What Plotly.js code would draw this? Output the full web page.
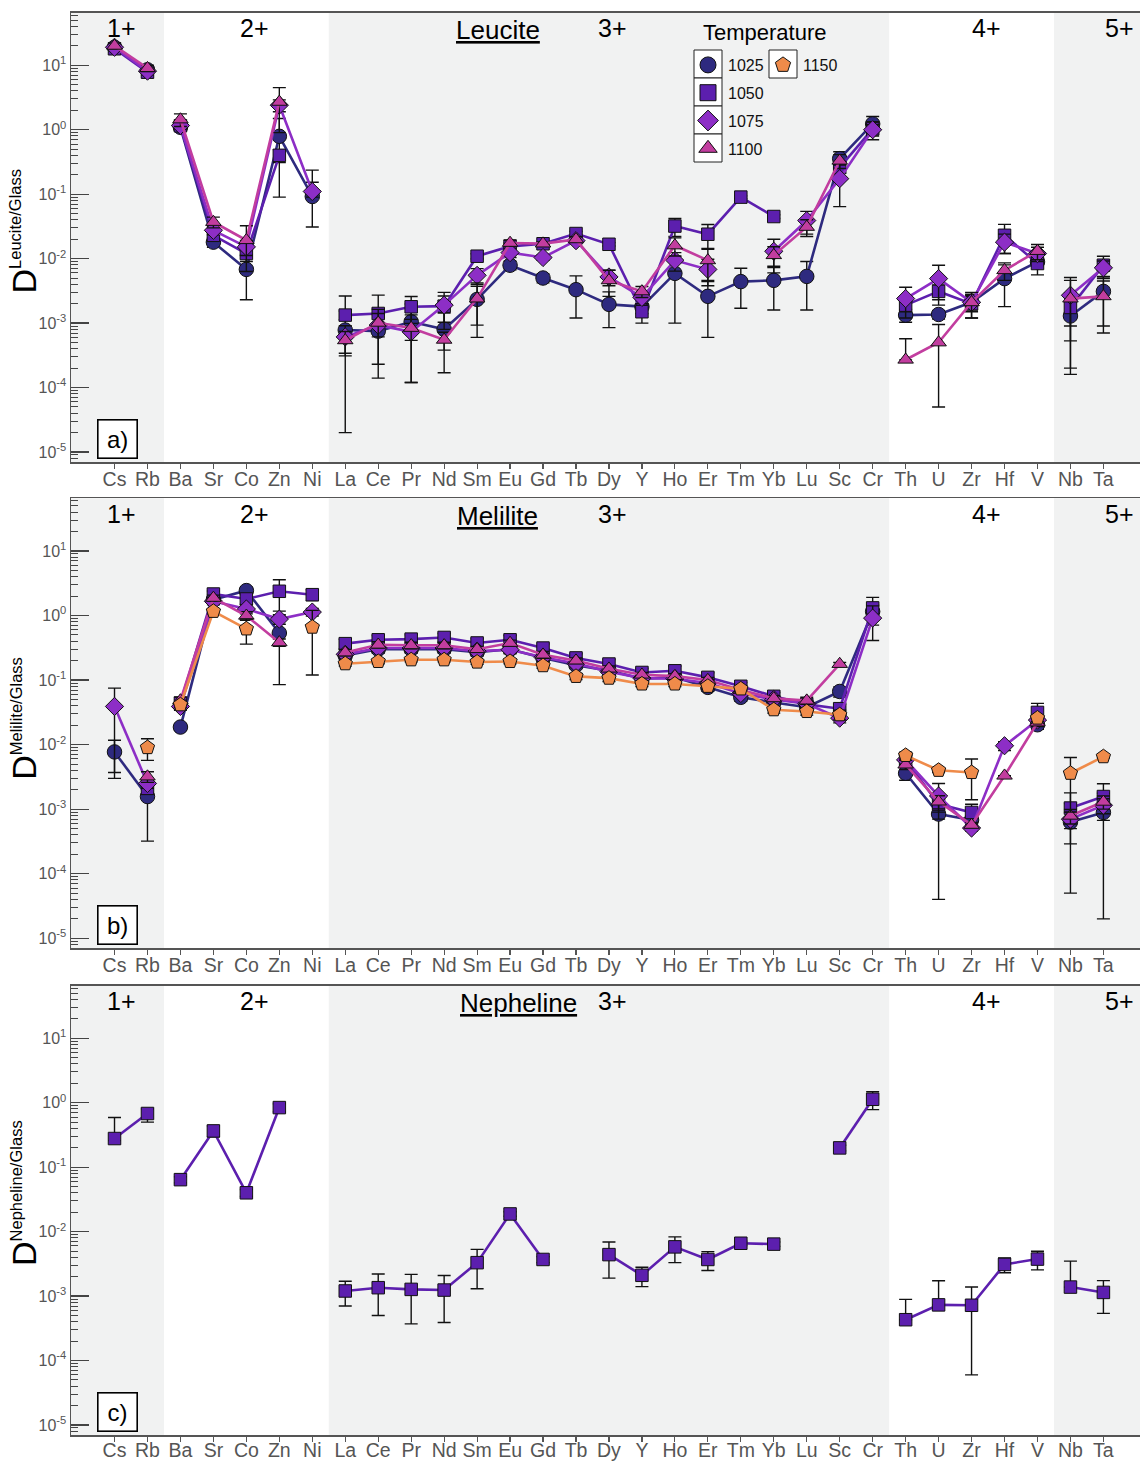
<!DOCTYPE html>
<html><head><meta charset="utf-8">
<script src="https://cdn.plot.ly/plotly-3.0.1.min.js"></script>
<style>html,body{margin:0;padding:0;background:#fff}#chart{width:1140px;height:1461px}</style>
</head><body><div id="chart"></div>
<script>
const categories = ['Cs','Rb','Ba','Sr','Co','Zn','Ni','La','Ce','Pr','Nd','Sm','Eu','Gd','Tb','Dy','Y','Ho','Er','Tm','Yb','Lu','Sc','Cr','Th','U','Zr','Hf','V','Nb','Ta'];
const chargeGroups = [['Cs','Rb'],['Ba','Ni'],['La','Cr'],['Th','V'],['Nb','Ta']];
const chargeLabels = ['1+','2+','3+','4+','5+'];
const temperatures = ['1025','1050','1075','1100','1150'];

// ---- Leucite / Glass ----
const leu1025 = [19,8.5,1.09,0.018,0.0068,0.79,0.092,0.00078,0.00075,0.00105,0.0008,0.00233,0.0079,0.005,0.0033,0.00195,0.0018,0.0059,0.0026,0.0044,0.0046,0.0053,0.355,1.23,0.00133,0.00136,0.0021,0.0049,0.0089,0.00129,0.0031];
const leu1025Err = [2,0.9,0.12,0.003,0.0045,0.7,0.061,0.00076,0.00061,0.00093,0.00063,0.0014,0.0012,0.0008,0.0021,0.0011,0.0004,0.0049,0.002,0.0027,0.003,0.0037,0.1,0.37,0.0003,0.0002,0.0005,0.0031,0.001,0.00113,0.0022];
const leu1050 = [18,7.8,1.15,0.023,0.012,0.40,null,0.00133,0.00141,0.00179,0.00183,0.0109,0.0155,0.017,0.0245,0.0167,0.0015,0.032,0.0239,0.090,0.045,null,0.26,1.03,0.0019,0.0031,0.002,0.023,0.0084,0.00175,0.0079];
const leu1050Err = [1.8,0.8,0.12,0.004,0.003,0.09,0,0.0013,0.0013,0.0008,0.0008,0.001,0.002,0.001,0.002,0.001,0.0005,0.01,0.01,0.004,0.003,0,0.05,0.3,0.0004,0.0008,0.0008,0.011,0.0028,0.00122,0.003];
const leu1050ErrMinus = [1.8,0.8,0.12,0.004,0.003,0.09,0,0.0002,0.0004,0.0008,0.0008,0.001,0.002,0.001,0.002,0.001,0.0005,0.01,0.01,0.004,0.003,0,0.05,0.33,0.0004,0.0008,0.0008,0.011,0.0028,0.00122,0.003];
const leu1075 = [19,8.1,1.16,0.0275,0.0152,2.4,0.11,0.00061,0.00093,0.00073,0.0019,0.0055,0.0124,0.0104,0.019,0.0052,0.0025,0.0094,0.0068,null,0.013,0.039,0.174,1.0,0.0024,0.0049,0.0021,0.018,0.012,0.0027,0.0072];
const leu1075Err = [2,0.8,0.12,0.004,0.004,0.5,0.126,0.0003,0.0007,0.00061,0.0011,0.0015,0.002,0.001,0.002,0.0014,0.0005,0.003,0.003,0,0.007,0.015,0.11,0.2,0.0012,0.003,0.0006,0.006,0.003,0.0024,0.002];
const leu1075ErrMinus = [2,0.8,0.12,0.004,0.004,0.5,0.02,0.0003,0.0007,0.00061,0.0011,0.0015,0.002,0.001,0.002,0.0014,0.0005,0.003,0.003,0,0.007,0.015,0.11,0.2,0.0012,0.003,0.0006,0.006,0.003,0.0018,0.002];
const leu1100 = [20,9,1.44,0.037,0.0193,2.7,null,0.00054,0.00101,0.00084,0.00055,0.0024,0.0175,0.0171,0.0199,0.0046,0.0031,0.016,0.0094,null,0.0113,0.031,0.33,null,0.00027,0.0005,0.0021,0.0066,0.0131,0.0024,0.0026];
const leu1100Err = [2,1,0.32,0.007,0.013,1.8,0,0.0002,0.0004,0.0003,0.00017,0.0018,0.002,0.001,0.002,0.002,0.0006,0.005,0.005,0,0.004,0.009,0.08,0,0.0003,0.00045,0.0009,0.002,0.0035,0.0022,0.0019];
const leu1100ErrMinus = [2,1,0.32,0.007,0.013,1.8,0,0.0002,0.0004,0.0003,0.00017,0.0018,0.002,0.001,0.002,0.002,0.0006,0.005,0.005,0,0.004,0.009,0.08,0,0.000001,0.00045,0.0009,0.002,0.0035,0.0022,0.0019];

// ---- Melilite / Glass ----
const mel1025 = [0.0077,0.00157,0.0187,1.76,2.43,0.535,null,0.24,0.30,0.30,0.30,0.27,0.30,0.22,0.17,0.14,0.105,0.11,0.077,0.054,0.045,0.038,0.0665,1.15,0.0036,0.00084,0.00068,null,0.0203,0.00063,0.00089];
const mel1025Err = [0.004,0.00125,0.002,0.2,0.3,0.45,0,0.03,0.04,0.04,0.04,0.035,0.04,0.03,0.02,0.015,0.01,0.012,0.01,0.007,0.005,0.005,0.012,0.3,0.0008,0.0008,0.0001,0,0.003,0.00058,0.00087];
const mel1050 = [null,0.0021,0.044,2.15,1.80,2.37,2.10,0.366,0.42,0.43,0.457,0.375,0.42,0.313,0.22,0.177,0.131,0.139,0.11,0.08,0.056,0.042,0.036,1.31,0.0058,0.0012,0.00089,null,0.0315,0.00104,0.00157];
const mel1050Err = [0,0.0004,0.005,0.25,0.3,1.2,0.4,0.06,0.07,0.07,0.07,0.06,0.07,0.05,0.035,0.03,0.02,0.025,0.02,0.012,0.008,0.006,0.006,0.6,0.001,0.0003,0.0003,0,0.012,0.00075,0.0009];
const mel1075 = [0.039,0.0025,0.039,1.66,1.26,0.88,1.13,0.25,0.313,0.313,0.313,0.28,0.295,0.225,0.18,0.135,0.107,0.105,0.09,0.062,0.05,0.043,0.0257,0.91,0.0058,0.0016,0.00051,0.0096,0.024,0.0007,0.00115];
const mel1075Err = [0.036,0.0004,0.005,0.2,0.2,0.15,0.15,0.03,0.04,0.04,0.04,0.03,0.04,0.03,0.02,0.015,0.01,0.01,0.01,0.006,0.005,0.005,0.004,0.5,0.001,0.0009,0.00005,0.0015,0.004,0.0002,0.0003];
const mel1100 = [null,0.0032,0.0483,1.87,0.99,0.383,null,0.267,0.352,0.345,0.345,0.30,0.375,0.247,0.20,0.15,0.121,0.115,0.10,0.07,0.052,0.048,0.177,null,0.0049,0.00131,0.00057,0.0033,0.022,0.00079,0.0013];
const mel1100Err = [0,0.0006,0.006,0.2,0.15,0.05,0,0.03,0.04,0.04,0.04,0.03,0.04,0.03,0.02,0.015,0.01,0.01,0.01,0.006,0.005,0.006,0.01,0,0.0008,0.0003,0.00005,0,0.003,0.0002,0.0003];
const mel1150 = [null,0.009,0.0414,1.16,0.62,null,0.66,0.179,0.194,0.206,0.206,0.19,0.194,0.167,0.114,0.107,0.087,0.087,0.080,0.073,0.0347,0.0326,0.029,null,0.0068,0.0040,0.0037,null,0.0258,0.0036,0.0065];
const mel1150Err = [0,0.0033,0.004,0.1,0.26,0,0.54,0.015,0.015,0.015,0.015,0.015,0.015,0.015,0.012,0.012,0.008,0.008,0.008,0.008,0.004,0.004,0.005,0,0.0008,0.0003,0.0023,0,0.003,0.0027,0.0003];

// ---- Nepheline / Glass ----
const nep1050 = [0.278,0.68,0.064,0.365,0.040,0.84,null,0.0012,0.00135,0.00127,0.00124,0.0033,0.0188,0.0037,null,0.0044,0.0021,0.0058,0.0037,0.0066,0.0064,null,0.199,1.13,0.00043,0.00073,0.00072,0.0031,0.00375,0.00138,0.00114];
const nep1050Err = [0.31,0.12,0.007,0.07,0.005,0.12,0,0.0005,0.00085,0.0009,0.00085,0.002,0.0015,0.0004,0,0.0025,0.0007,0.0025,0.0012,0.0005,0.0005,0,0.02,0.35,0.00046,0.001,0.00066,0.0008,0.0012,0.0021,0.0006];
const nep1050ErrMinus = [0.02,0.18,0.007,0.07,0.005,0.12,0,0.0005,0.00085,0.0009,0.00085,0.002,0.0015,0.0004,0,0.0025,0.0007,0.0025,0.0012,0.0005,0.0005,0,0.02,0.35,0.000001,0.000001,0.00066,0.0008,0.0012,0.000001,0.0006];

const panelTitles = ['Leucite','Melilite','Nepheline'];
const panelLetters = ['a)','b)','c)'];
const ySubscripts = ['Leucite/Glass','Melilite/Glass','Nepheline/Glass'];

const colors = {'1025':'#2e2a7f','1050':'#5c1fae','1075':'#8d2ec6','1100':'#c23d9f','1150':'#ef8b4a'};
const symbols = {'1025':'circle','1050':'square','1075':'diamond','1100':'triangle-up','1150':'pentagon'};
const sizes = {'1025':14.5,'1050':12.5,'1075':14,'1100':13.5,'1150':15};

const panels = [
  [{t:'1025',y:leu1025,e:leu1025Err},{t:'1050',y:leu1050,e:leu1050Err,em:leu1050ErrMinus},{t:'1075',y:leu1075,e:leu1075Err,em:leu1075ErrMinus},{t:'1100',y:leu1100,e:leu1100Err,em:leu1100ErrMinus}],
  [{t:'1025',y:mel1025,e:mel1025Err},{t:'1050',y:mel1050,e:mel1050Err},{t:'1075',y:mel1075,e:mel1075Err},{t:'1100',y:mel1100,e:mel1100Err},{t:'1150',y:mel1150,e:mel1150Err}],
  [{t:'1050',y:nep1050,e:nep1050Err,em:nep1050ErrMinus}]
];

const W = 1140, H = 1461, ML = 71;
const px2x = p => (p - ML) / (W - ML);
const px2y = p => 1 - p / H;
const FONT = 'Liberation Sans, Arial, sans-serif';
const panelPx = [[12.7,462],[498.3,948.3],[985.7,1435]];
const panelOffset = [0, 486.3, 973];

const traces = [];
panels.forEach((series, pi) => {
  const ax = pi === 0 ? '' : String(pi + 1);
  series.forEach(s => {
    chargeGroups.forEach(g => {
      const i0 = categories.indexOf(g[0]), i1 = categories.indexOf(g[1]);
      const em = s.em || s.e;
      traces.push({
        type:'scatter', mode:'lines+markers',
        x: categories.slice(i0, i1+1), y: s.y.slice(i0, i1+1),
        xaxis:'x'+ax, yaxis:'y'+ax,
        connectgaps:false, showlegend:false, legendgroup:s.t, name:s.t,
        line:{color:colors[s.t], width:2.6},
        marker:{symbol:symbols[s.t], size:sizes[s.t], color:colors[s.t], line:{color:'#111', width:1}},
        error_y:{type:'data', symmetric:false, array:s.e.slice(i0,i1+1), arrayminus:em.slice(i0,i1+1), color:'#111', thickness:1.4, width:6.5},
        hoverinfo:'x+y+name'
      });
    });
  });
});
// legend entries (markers only)
temperatures.forEach(t => {
  traces.push({type:'scatter', mode:'markers', x:[categories[0]], y:[null], name:t, legendgroup:t,
    legend: t === '1150' ? 'legend2' : 'legend', showlegend:true,
    marker:{symbol:symbols[t], size:16, color:colors[t], line:{color:'#111', width:1}}});
});

const majorVals = [], majorText = [], minorVals = [];
for (let d = -5; d <= 1; d++) { majorVals.push(Math.pow(10,d)); majorText.push('10<sup>' + d + '</sup>'); }
for (let d = -6; d <= 1; d++) for (let m = 2; m <= 9; m++) minorVals.push(m * Math.pow(10,d));

const layout = {
  width:W, height:H, margin:{l:ML, r:0, t:0, b:0},
  paper_bgcolor:'#fff', plot_bgcolor:'#fff',
  font:{family:FONT, color:'#000'},
  showlegend:true,
  legend:{x:px2x(688), xanchor:'left', y:px2y(48), yanchor:'top', bgcolor:'rgba(0,0,0,0)', borderwidth:0,
    font:{size:16, family:FONT, color:'#111'}, tracegroupgap:4, traceorder:'grouped', itemclick:false, itemdoubleclick:false},
  legend2:{x:px2x(763), xanchor:'left', y:px2y(48), yanchor:'top', bgcolor:'rgba(0,0,0,0)', borderwidth:0,
    font:{size:16, family:FONT, color:'#111'}, itemclick:false, itemdoubleclick:false},
  shapes:[], annotations:[]
};

panelPx.forEach((pp, pi) => {
  const ax = pi === 0 ? '' : String(pi + 1);
  const dom = [px2y(pp[1]), px2y(pp[0])];
  layout['xaxis'+ax] = {
    type:'category', anchor:'y'+ax, domain:[0,1], range:[-1.32, 31.11],
    tickmode:'array', tickvals:categories, ticktext:categories,
    ticks:'outside', ticklen:5, tickwidth:1.2, tickcolor:'#555', ticklabelstandoff: pi === 2 ? -8 : -6,
    showline:true, linecolor:'#555', linewidth:1.5, mirror:true, showgrid:false, zeroline:false,
    tickfont:{size:19.5, color:'#555', family:FONT}, fixedrange:true
  };
  layout['yaxis'+ax] = {
    type:'log', anchor:'x'+ax, domain:dom, range:[-5.155, 1.815],
    tickmode:'array', tickvals:majorVals, ticktext:majorText,
    ticks:'inside', ticklen:18, tickwidth:1.2, tickcolor:'#444',
    minor:{tickmode:'array', tickvals:minorVals, ticks:'inside', ticklen:7, tickwidth:1, tickcolor:'#444', showgrid:false},
    showline:true, linecolor:'#555', linewidth:1.5, mirror:false, showgrid:false, zeroline:false,
    tickfont:{size:16, color:'#555', family:FONT}, fixedrange:true
  };
  [[-3,1.5],[6.5,23.5],[28.5,33]].forEach(b => {
    layout.shapes.push({type:'rect', xref:'x'+ax, yref:'y'+ax+' domain', x0:b[0], x1:b[1], y0:0, y1:1,
      fillcolor:'#f1f2f2', line:{width:0}, layer:'below'});
  });
  const off = panelOffset[pi];
  const labelX = [121, 254, 612, 986, 1119];
  chargeLabels.forEach((c, ci) => {
    layout.annotations.push({xref:'paper', yref:'paper', x:px2x(labelX[ci]), y:px2y(28+off), text:c, showarrow:false,
      xanchor:'center', yanchor:'middle', font:{size:25, family:FONT, color:'#000'}});
  });
  const titleX = [498, 497, 518][pi];
  layout.annotations.push({xref:'paper', yref:'paper', x:px2x(titleX), y:px2y(30+off), text:'<u>'+panelTitles[pi]+'</u>', showarrow:false,
    xanchor:'center', yanchor:'middle', font:{size:26, family:FONT, color:'#000'}});
  layout.annotations.push({xref:'paper', yref:'paper', x:px2x(117.5), y:px2y(439+off), text:panelLetters[pi], showarrow:false,
    xanchor:'center', yanchor:'middle', width:36, height:35, bordercolor:'#000', borderwidth:1.6, bgcolor:'#fff',
    font:{size:24, family:FONT, color:'#000'}});
  layout.annotations.push({xref:'paper', yref:'paper', x:px2x(24), y:px2y(295+off),
    text:'D<sup><span style="font-size:16.5px">'+ySubscripts[pi]+'</span></sup>', showarrow:false,
    textangle:-90, xanchor:'center', yanchor:'bottom', font:{size:34, family:FONT, color:'#000'}});
});

layout.annotations.push({xref:'paper', yref:'paper', x:px2x(765), y:px2y(33), text:'Temperature', showarrow:false,
  xanchor:'center', yanchor:'middle', font:{size:22, family:FONT, color:'#000'}});
[[694,50,722,78],[694,78,722,106],[694,106,722,134],[694,134,722,162],[769,50,797,78]].forEach(r => {
  layout.shapes.push({type:'rect', xref:'paper', yref:'paper', x0:px2x(r[0]), x1:px2x(r[2]), y0:px2y(r[3]), y1:px2y(r[1]),
    fillcolor:'#fff', line:{color:'#222', width:1}, layer:'above'});
});

Plotly.newPlot('chart', traces, layout, {displayModeBar:false, staticPlot:true});
</script>
</body></html>
